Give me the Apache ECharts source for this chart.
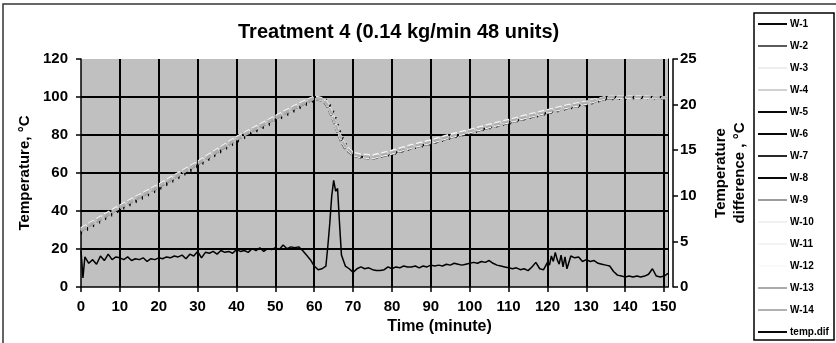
<!DOCTYPE html>
<html><head><meta charset="utf-8">
<script src="https://cdn.jsdelivr.net/npm/echarts@6/dist/echarts.min.js"></script>
<style>html,body{margin:0;padding:0;background:#fff}#c{width:836px;height:343px}</style>
</head><body><div id="c"></div>
<script>
// ---------- data ----------
const TITLE = 'Treatment 4 (0.14 kg/min 48 units)';
const TEMP_TICKS = [0, 20, 40, 60, 80, 100, 120];
const DIFF_TICKS = [0, 5, 10, 15, 20, 25];
const TIME_TICKS = [0, 10, 20, 30, 40, 50, 60, 70, 80, 90, 100, 110, 120, 130, 140, 150];

const W_TIME = [0,5,10,15,20,25,30,35,40,45,50,55,60,62,63,64,65,66,67,68,70,72,75,80,85,90,95,100,105,110,115,120,125,130,135,140,145,150,151];
const W1  = [28,34,40,45.5,51,57,63,69.5,76,81.5,87,92.5,98,99,98.5,96,92,86,80,75,70,68,67.5,69.5,72.5,75,78,80.6,83.3,85.8,88.5,91,93.5,95.6,98.5,99,99.2,99,99];
const W2  = [29.5,35.5,41.5,47,52.5,58.5,64.5,71,77.5,83,88.5,94,99,98,96,92,87,81,76,72.5,69,68,67.5,70,73,75.5,78.5,81,83.8,86.3,89,91.5,94,96.2,99,99.5,99.5,99.3,99.3];
const W3  = [30,36,42,47.5,53,59,65,71.5,78,83.5,89,94.5,99.5,98.5,97,93,88,82,77,73.5,69.5,68.5,68,70.5,73.5,76,79,81.6,84.3,86.8,89.5,92,94.5,96.6,99.5,99.8,99.7,99.5,99.5];
const W4  = [30.5,36.5,42.5,48,53.5,59.5,65.5,72,78.5,84,89.5,95,100,99,97.5,94,89,83,78,74,70,69,68.5,71,74,76.5,79.5,82,84.8,87.3,90,92.5,95,97,99.8,100,100,99.8,99.8];
const W5  = [28.5,34.5,40.5,46,51.5,57.5,63.5,70,76.5,82,87.5,93,98.5,99,98,95,90,84,78.5,74.5,70,68.5,68,70,73,75.5,78.5,81,83.8,86.3,89,91.5,94,96,99,99.5,99.4,99.2,99.2];
const W6  = [29,35,41,46.5,52,58,64,70.5,77,82.5,88,93.5,98.8,98.8,97.5,94,89,83,77.5,74,70,68.5,68,70.3,73.2,75.8,78.8,81.3,84,86.5,89.2,91.8,94.2,96.3,99.2,99.6,99.5,99.3,99.3];
const W7  = [29.2,35.2,41.2,46.8,52.3,58.3,64.3,70.8,77.3,82.8,88.3,93.8,99,99.2,98.8,96.5,92.5,86.5,80.5,76,70.5,68.8,68.2,70.2,73.3,76,79,81.5,84.2,86.7,89.4,91.9,94.4,96.5,99.3,99.7,99.6,99.4,99.4];
const W8  = [28.8,34.8,40.8,46.3,51.8,57.8,63.8,70.3,76.8,82.3,87.8,93.3,98.7,99,98.2,95.5,91,85,79,75,70.2,68.6,68.1,70.1,73.1,75.7,78.7,81.2,83.9,86.4,89.1,91.6,94.1,96.2,99.1,99.5,99.4,99.2,99.2];
const W9  = [30.2,36.2,42.2,47.7,53.2,59.2,65.2,71.7,78.2,83.7,89.2,94.7,99.7,98.7,97.2,93.2,88.2,82.2,77.2,73.7,69.7,68.7,68.2,70.7,73.7,76.2,79.2,81.8,84.5,87,89.7,92.2,94.7,96.8,99.6,99.9,99.8,99.6,99.6];
const W10 = [30.8,36.8,42.8,48.3,53.8,59.8,65.8,72.3,78.8,84.3,89.8,95.3,100.2,99.2,97.8,94,89,83,78,74.3,70.5,69.5,69,71.5,74.5,77,80,82.5,85.2,87.7,90.4,92.9,95.4,97.4,100,100.2,100.1,99.9,99.9];
const W11 = [31,37,43,48.5,54,60,66,72.5,79,84.5,90,95.5,100.3,99.5,98,94.5,89.5,83.5,78.5,74.5,70.8,69.8,69.3,71.8,74.8,77.3,80.3,82.8,85.5,88,90.7,93.2,95.7,97.6,100.1,100.3,100.2,100,100];
const W12 = [29.8,35.8,41.8,47.3,52.8,58.8,64.8,71.3,77.8,83.3,88.8,94.3,99.3,98.3,96.8,92.8,87.8,81.8,76.8,73.3,69.3,68.3,67.8,70.3,73.3,75.8,78.8,81.4,84.1,86.6,89.3,91.8,94.3,96.4,99.3,99.6,99.5,99.3,99.3];
const W13 = [29.6,35.6,41.6,47.1,52.6,58.6,64.6,71.1,77.6,83.1,88.6,94.1,99.2,98.6,97,93.5,88.5,82.5,77.5,73.8,69.8,68.8,68.3,70.8,73.8,76.3,79.3,81.9,84.6,87.1,89.8,92.3,94.8,96.9,99.7,100,99.9,99.7,99.7];
const W14 = [30.4,36.4,42.4,47.9,53.4,59.4,65.4,71.9,78.4,83.9,89.4,94.9,99.8,98.9,97.4,93.6,88.6,82.6,77.6,74,70,69,68.5,71,74,76.5,79.5,82.1,84.8,87.3,90,92.5,95,97.1,99.9,100.1,100,99.8,99.8];

const DIFF_TIME = [0,0.5,1,2,3,4,5,6,7,8,9,10,11,12,13,14,15,16,17,18,19,20,21,22,23,24,25,26,27,28,29,30,31,32,33,34,35,36,37,38,39,40,41,42,43,44,45,46,47,48,49,50,51,52,53,54,55,56,57,58,59,60,61,62,63,63.5,64,64.5,65,65.5,66,66.5,67,68,69,70,71,72,73,74,75,76,77,78,79,80,81,82,83,84,85,86,87,88,89,90,91,92,93,94,95,96,97,98,99,100,101,102,103,104,105,106,107,108,109,110,111,112,113,114,115,116,117,118,119,120,120.5,121,121.5,122,122.5,123,123.5,124,124.5,125,126,127,128,129,130,131,132,133,134,135,136,137,138,139,140,141,142,143,144,145,146,147,148,149,150,151];
const DIFF_VAL  = [4.0,1.0,3.3,2.6,3.0,2.5,3.4,2.9,3.6,3.0,3.3,3.2,3.0,3.3,2.9,3.1,3.0,3.2,2.8,3.1,3.0,3.2,3.1,3.3,3.2,3.4,3.3,3.5,3.1,3.6,3.4,3.9,3.2,3.8,3.7,3.9,3.6,4.0,3.8,3.9,3.7,4.1,3.9,4.0,3.8,4.2,4.0,4.3,3.9,4.2,4.1,4.3,4.1,4.6,4.2,4.4,4.3,4.4,4.0,3.5,3.0,2.3,1.9,2.0,2.3,4.5,7.0,10.0,11.7,10.5,10.8,7.0,3.5,2.3,2.0,1.6,2.0,2.2,2.0,2.1,1.9,1.8,1.8,1.9,2.2,2.0,2.2,2.1,2.3,2.2,2.2,2.3,2.1,2.3,2.2,2.4,2.3,2.4,2.3,2.5,2.4,2.6,2.5,2.4,2.5,2.6,2.7,2.6,2.8,2.7,2.9,2.6,2.4,2.3,2.2,2.1,2.0,2.1,1.9,2.0,1.8,2.2,2.7,2.0,1.9,2.7,2.4,3.4,2.8,3.8,3.0,2.5,3.5,2.2,3.3,2.0,3.4,3.2,3.3,2.8,3.0,2.8,2.9,2.6,2.5,2.4,2.3,1.7,1.3,1.2,1.1,1.2,1.1,1.2,1.1,1.2,1.4,2.0,1.2,1.1,1.2,1.5];

const W_NAMES = ['W-1','W-2','W-3','W-4','W-5','W-6','W-7','W-8','W-9','W-10','W-11','W-12','W-13','W-14'];
const W_VALUES = [W1,W2,W3,W4,W5,W6,W7,W8,W9,W10,W11,W12,W13,W14];
const DIFF_NAME = 'temp.dif';

// ---------- styles ----------
const W_COLORS = ['#000000','#555555','#eeeeee','#d0d0d0','#000000','#000000','#222222','#000000','#999999','#f0f0f0','#f4f4f4','#fafafa','#a8a8a8','#b0b0b0'];
const W_DOTTED = [true,false,false,false,true,true,true,true,false,false,false,false,false,false];
const FONT = "'Liberation Sans', Arial, sans-serif";

const chart = echarts.init(document.getElementById('c'), null, {renderer: 'canvas'});

const series = W_NAMES.map((n, i) => ({
  name: n, type: 'line', xAxisIndex: 0, yAxisIndex: 0,
  data: W_TIME.map((t, k) => [t, W_VALUES[i][k]]),
  showSymbol: false, symbol: 'none', animation: false,
  lineStyle: {color: W_COLORS[i], width: W_DOTTED[i] ? 1.5 : 2, type: W_DOTTED[i] ? [1, 6] : [6, 3]},
  itemStyle: {color: W_COLORS[i]},
  z: W_DOTTED[i] ? 2 : 3
}));
series.push({
  name: DIFF_NAME, type: 'line', xAxisIndex: 0, yAxisIndex: 2,
  data: DIFF_TIME.map((t, k) => [t, DIFF_VAL[k]]),
  showSymbol: false, symbol: 'none', animation: false,
  lineStyle: {color: '#000', width: 1.5},
  itemStyle: {color: '#000'}, z: 4
});

const axisText = {color: '#000', fontFamily: FONT, fontWeight: 'bold', fontSize: 15};

chart.setOption({
  animation: false,
  backgroundColor: '#fff',
  title: {
    text: TITLE, left: 233, top: 17,
    textStyle: {fontFamily: FONT, fontWeight: 'bold', fontSize: 20, color: '#000'}
  },
  graphic: [
    {type: 'rect', shape: {x: 3, y: 4, width: 845, height: 360}, style: {fill: 'none', stroke: '#333', lineWidth: 1.5}, silent: true},
    {type: 'rect', shape: {x: 754, y: 13, width: 80, height: 327}, style: {fill: '#fff', stroke: '#000', lineWidth: 1.5}, silent: true}
  ],
  legend: {
    orient: 'vertical', left: 756, top: 14, z: 10,
    padding: [5, 2, 2, 2], itemGap: 12, itemWidth: 29, itemHeight: 12,
    icon: 'path://M0,0L30,0L30,2L0,2Z',
    data: W_NAMES.concat([DIFF_NAME]),
    textStyle: {fontFamily: FONT, fontWeight: 'bold', fontSize: 10, color: '#000', padding: [0, 0, 0, -2]}
  },
  grid: {left: 81, right: 168, top: 59, bottom: 56, show: true, backgroundColor: '#c0c0c0', borderWidth: 0},
  xAxis: {
    type: 'value', min: TIME_TICKS[0], max: 151, interval: 10,
    name: 'Time (minute)', nameLocation: 'middle', nameGap: 30,
    nameTextStyle: Object.assign({}, axisText, {fontSize: 16, padding: [0, 0, 0, 130]}),
    axisLine: {show: true, onZero: false, lineStyle: {color: '#000', width: 1.5}},
    axisTick: {show: true, length: 5, lineStyle: {color: '#000', width: 1.5}},
    axisLabel: Object.assign({margin: 12, showMaxLabel: false}, axisText),
    splitLine: {show: true, showMinLine: false, showMaxLine: false, lineStyle: {color: '#000', width: 2}}
  },
  yAxis: [
    {
      type: 'value', position: 'left', min: TEMP_TICKS[0], max: TEMP_TICKS[TEMP_TICKS.length - 1], interval: 20,
      name: 'Temperature, °C', nameLocation: 'middle', nameGap: 48, nameRotate: 90,
      nameTextStyle: Object.assign({}, axisText),
      axisLine: {show: true, lineStyle: {color: '#000', width: 1.5}},
      axisTick: {show: true, length: 5, lineStyle: {color: '#000', width: 1.5}},
      axisLabel: Object.assign({margin: 13}, axisText),
      splitLine: {show: true, showMinLine: false, showMaxLine: false, lineStyle: {color: '#000', width: 2}}
    },
    {
      type: 'value', position: 'right', offset: 0, min: 0, max: 120,
      axisLine: {show: true, lineStyle: {color: '#000', width: 1}},
      axisTick: {show: false}, axisLabel: {show: false}, splitLine: {show: false}
    },
    {
      type: 'value', position: 'right', offset: 5, min: DIFF_TICKS[0], max: DIFF_TICKS[DIFF_TICKS.length - 1], interval: 5,
      name: 'Temperature\ndifference , °C', nameLocation: 'middle', nameGap: 38, nameRotate: 90,
      nameTextStyle: Object.assign({}, axisText, {lineHeight: 19}),
      axisLine: {show: true, lineStyle: {color: '#000', width: 1.5}},
      axisTick: {show: true, length: 5, lineStyle: {color: '#000', width: 1.5}},
      axisLabel: Object.assign({margin: 7}, axisText),
      splitLine: {show: false}
    }
  ],
  series: series
});
</script>
</body></html>
